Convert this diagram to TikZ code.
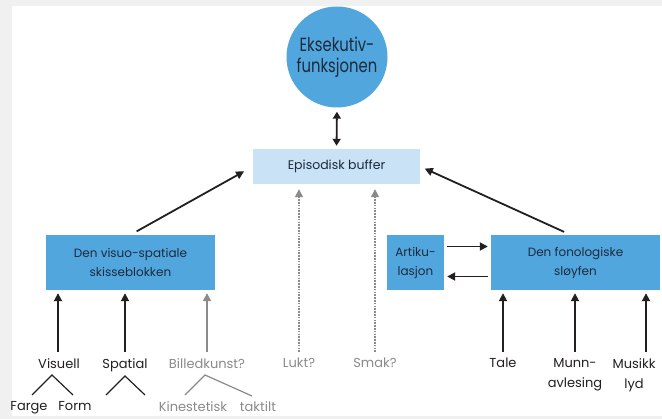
\documentclass[tikz,border=0pt]{standalone}
\usepackage{fontspec}
\setmainfont{Poppins}
\newfontfamily\circfont[FakeStretch=0.78]{Poppins}
\usetikzlibrary{arrows.meta}
\definecolor{bgc}{HTML}{F0F0F0}
\definecolor{cblue}{HTML}{52A6DE}
\definecolor{lblue}{HTML}{C9E2F5}
\definecolor{navy}{HTML}{1C2A3C}
\definecolor{ink}{HTML}{231F20}
\definecolor{grayc}{HTML}{8A8A8A}
\tikzset{
  boxx/.style={fill=cblue, draw=none, text=navy, align=center, inner sep=0pt,
    minimum height=55pt, font=\fontsize{12}{19}\selectfont},
  lbl/.style={anchor=north, inner sep=0pt, text=ink, align=center,
    font=\fontsize{13}{20}\selectfont},
  glbl/.style={lbl, text=grayc},
  arr/.style={draw=ink, line width=1.8pt, -{Triangle[length=8pt,width=8pt]}},
  garr/.style={draw=grayc, line width=1.8pt, -{Triangle[length=8pt,width=8pt]}},
  darr/.style={draw=grayc, line width=1.4pt, dash pattern=on 1.6pt off 1.2pt,
    -{Triangle[length=8pt,width=8pt]}},
  tree/.style={draw=ink, line width=1.2pt},
  gtree/.style={draw=grayc, line width=1.2pt},
}
\begin{document}
\begin{tikzpicture}[x=1pt,y=-1pt]
\useasboundingbox (0,0) rectangle (662,419);
\clip (0,0) rectangle (662,419);
\fill[bgc] (0,0) rectangle (662,419);
\fill[white] (12,6) rectangle (662,416);

% main nodes
\node[circle, fill=cblue, minimum size=101pt, inner sep=0pt, text=navy, align=center,
  font=\circfont\fontsize{19}{21}\selectfont] (exec) at (337,57) {Eksekutiv-\\funksjonen};
\node[fill=lblue, minimum width=167pt, minimum height=35pt, inner sep=0pt, text=navy,
  font=\fontsize{12.5}{14}\selectfont] (buf) at (336.5,166.5) {Episodisk buffer};
\node[boxx, minimum width=169pt] (visuo) at (130.5,262.5) {Den visuo-spatiale\\skisseblokken};
\node[boxx, minimum width=57pt] (artik) at (415.5,262.5) {Artiku-\\lasjon};
\node[boxx, minimum width=169pt] (phon) at (575.5,262.5) {Den fonologiske\\sløyfen};

% bottom labels
\node[lbl] (visuell) at (59,358) {Visuell};
\node[lbl] (spatial) at (125,358) {Spatial};
\node[glbl] (billed) at (207,358) {Billedkunst?};
\node[glbl] (lukt) at (299,358) {Lukt?};
\node[glbl] (smak) at (375,358) {Smak?};
\node[lbl] (tale) at (503,358) {Tale};
\node[lbl] (munn) at (575,358) {Munn-\\avlesing};
\node[lbl] (musikk) at (634,358) {Musikk\\lyd};
\node[lbl] (farge) at (29,401) {Farge};
\node[lbl] (form) at (75,401) {Form};
\node[glbl] (kin) at (193,401) {Kinestetisk};
\node[glbl] (takt) at (258,401) {taktilt};

% top connectors
\draw[draw=ink, line width=1.8pt, {Triangle[length=7pt,width=8pt]}-{Triangle[length=7pt,width=8pt]},
  shorten <=4pt, shorten >=3pt] (exec.south) -- (buf.north);
\draw[arr, shorten <=7pt, shorten >=10pt] (visuo.north) -- (buf.west);
\draw[arr, shorten <=7pt, shorten >=5pt] ([xshift=-5pt]phon.north) -- (buf.east);
\draw[arr, shorten <=3pt, shorten >=3pt] ([yshift=16pt]artik.east) -- ([yshift=16pt]phon.west);
\draw[arr, shorten <=3pt, shorten >=3pt] ([yshift=-14pt]phon.west) -- ([yshift=-14pt]artik.east);

% bottom connectors
\draw[arr, shorten <=6pt, shorten >=3pt] ([xshift=-1pt]visuell.north) -- ([xshift=-1pt]visuell.north |- visuo.south);
\draw[arr, shorten <=6pt, shorten >=3pt] (spatial.north) -- (spatial.north |- visuo.south);
\draw[garr, shorten <=6pt, shorten >=3pt] (billed.north) -- (billed.north |- visuo.south);
\draw[darr, shorten <=6pt, shorten >=5pt] (lukt.north) -- (lukt.north |- buf.south);
\draw[darr, shorten <=6pt, shorten >=5pt] (smak.north) -- (smak.north |- buf.south);
\draw[arr, shorten <=6pt, shorten >=3pt] (tale.north) -- (tale.north |- phon.south);
\draw[arr, shorten <=6pt, shorten >=3pt] (munn.north) -- (munn.north |- phon.south);
\draw[arr, shorten <=6pt, shorten >=3pt] ([xshift=12pt]musikk.north) -- ([xshift=12pt]musikk.north |- phon.south);

% trees
\coordinate (va) at (52,375);
\coordinate (sa) at (125,376);
\coordinate (sl) at (106,395);
\coordinate (sr) at (145,395);
\coordinate (ba) at (205,375);
\coordinate (br) at (252,396);
\draw[tree] ([xshift=3pt,yshift=6pt]farge.north) -- (va) -- ([xshift=-2pt,yshift=6pt]form.north);
\draw[tree] (sl) -- (sa) -- (sr);
\draw[gtree] ([xshift=-8pt,yshift=6pt]kin.north) -- (ba) -- (br);
\end{tikzpicture}
\end{document}
